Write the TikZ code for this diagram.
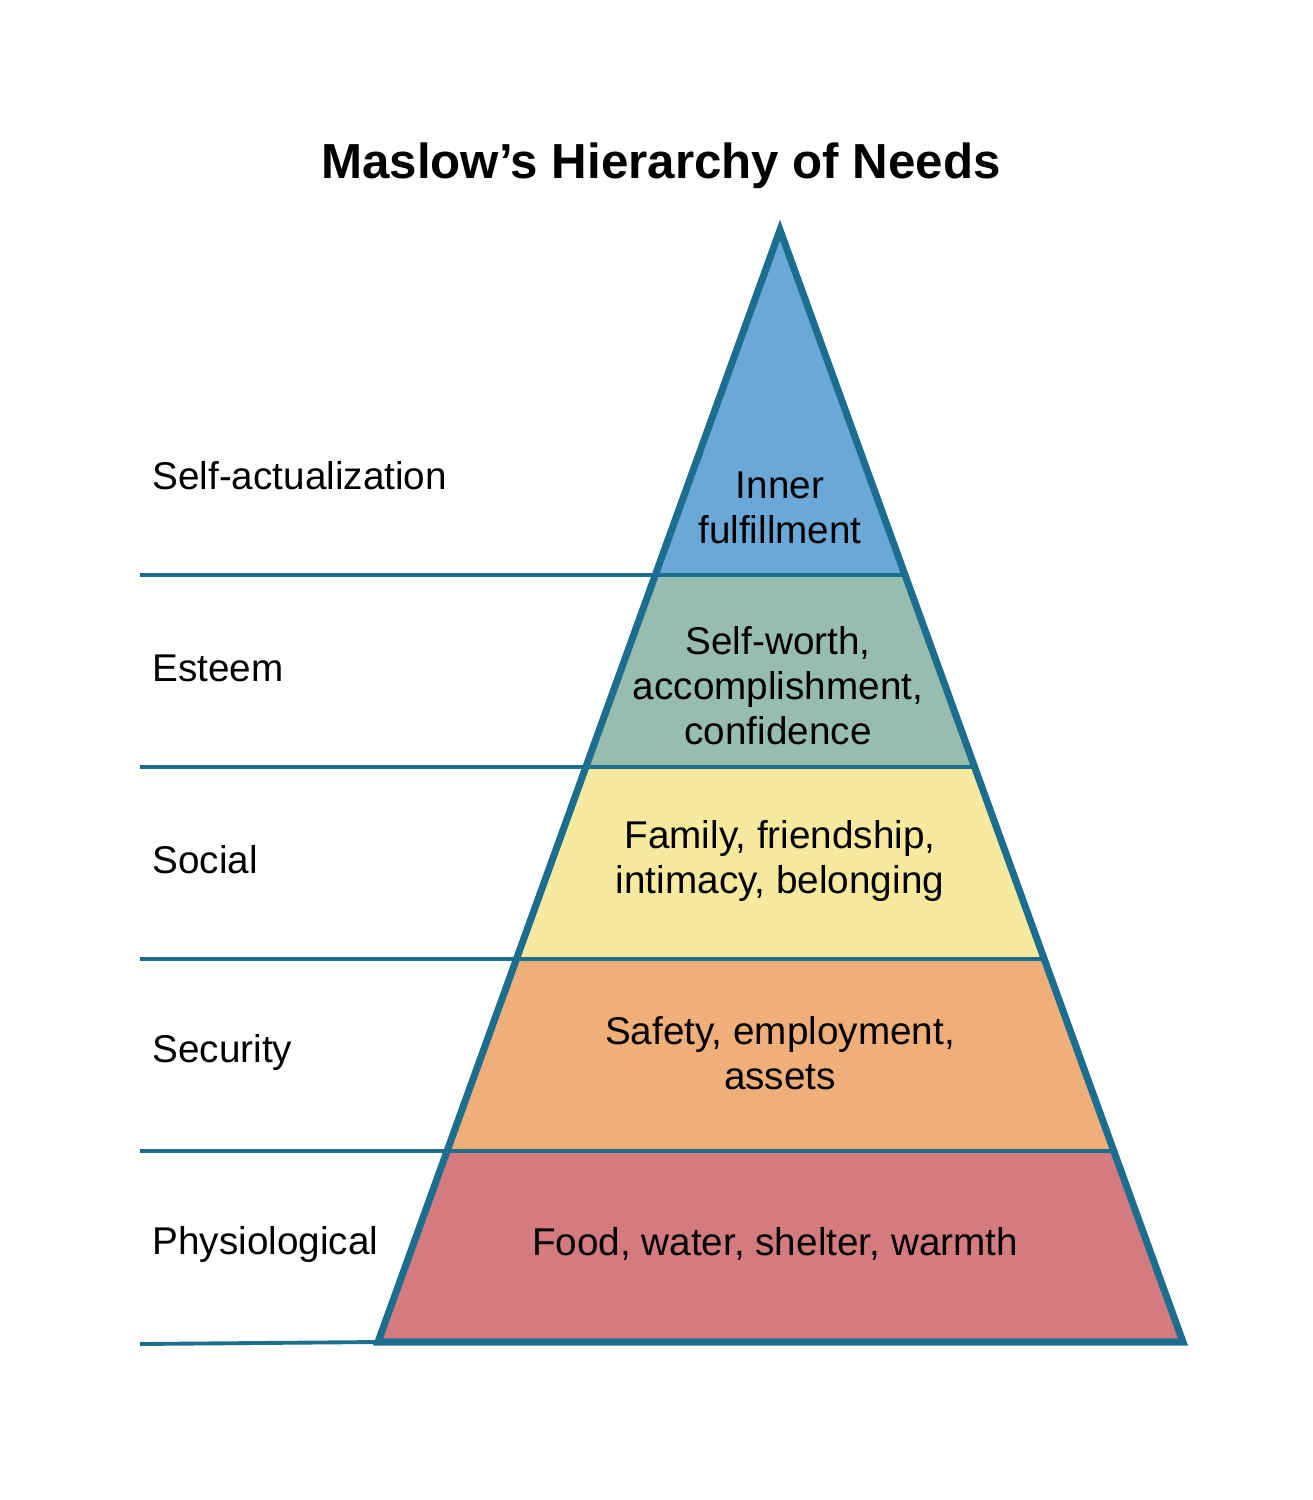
\documentclass[tikz,border=0pt]{standalone}
\usepackage{fontspec}
\setmainfont{Liberation Sans}
\begin{document}
\begin{tikzpicture}[x=0.01cm,y=-0.01cm,
  band/.style={draw=none},
  rule/.style={draw=edge,line width=1.1pt},
  lab/.style={anchor=west,font=\fontsize{11}{13}\selectfont},
  inner/.style={align=center,font=\fontsize{11}{12.8}\selectfont}]
\definecolor{edge}{HTML}{1C6E8F}
\definecolor{c1}{HTML}{6AA8D8}
\definecolor{c2}{HTML}{96BDAE}
\definecolor{c3}{HTML}{F7E99E}
\definecolor{c4}{HTML}{F0AE78}
\definecolor{c5}{HTML}{D47B80}
\useasboundingbox (0,0) rectangle (1313,1500);
\coordinate (A) at (780,230);
\coordinate (L1) at (655.3,575); \coordinate (R1) at (905,575);
\coordinate (L2) at (585.9,767); \coordinate (R2) at (974.6,767);
\coordinate (L3) at (516.5,959); \coordinate (R3) at (1044.2,959);
\coordinate (L4) at (447.1,1151); \coordinate (R4) at (1113.8,1151);
\coordinate (L5) at (378,1342); \coordinate (R5) at (1183,1342);
\fill[c1] (A) -- (R1) -- (L1) -- cycle;
\fill[c2] (L1) -- (R1) -- (R2) -- (L2) -- cycle;
\fill[c3] (L2) -- (R2) -- (R3) -- (L3) -- cycle;
\fill[c4] (L3) -- (R3) -- (R4) -- (L4) -- cycle;
\fill[c5] (L4) -- (R4) -- (R5) -- (L5) -- cycle;
\coordinate (S1) at (140,575); \coordinate (S2) at (140,767);
\coordinate (S3) at (140,959); \coordinate (S4) at (140,1151);
\coordinate (S5) at (140,1344);
\draw[rule] (S1) -- (R1); \draw[rule] (S2) -- (R2);
\draw[rule] (S3) -- (R3); \draw[rule] (S4) -- (R4);
\draw[rule] (S5) -- (L5);
\draw[edge,line width=2pt,line join=miter] (A) -- (R5) -- (L5) -- cycle;
\node[font=\bfseries\fontsize{14}{16}\selectfont] (title) at (661,166) {Maslow’s Hierarchy of Needs};
\node[lab] (l1) at (140,476) {Self-actualization};
\node[lab] (l2) at (140,668) {Esteem};
\node[lab] (l3) at (140,860) {Social};
\node[lab] (l4) at (140,1052) {Security};
\node[lab] (l5) at (140,1244) {Physiological};
\node[inner] (t1) at (780,508) {Inner\\fulfillment};
\node[inner] (t2) at (778,686) {Self-worth,\\accomplishment,\\confidence};
\node[inner] (t3) at (780,861) {Family, friendship,\\intimacy, belonging};
\node[inner] (t4) at (780,1053) {Safety, employment,\\assets};
\node[inner] (t5) at (775,1244) {Food, water, shelter, warmth};
\end{tikzpicture}
\end{document}
